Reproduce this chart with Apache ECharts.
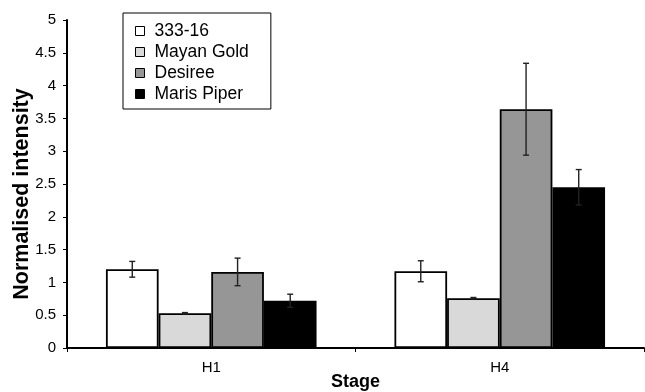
<!DOCTYPE html>
<html>
<head>
<meta charset="utf-8">
<script src="https://cdn.jsdelivr.net/npm/echarts@6/dist/echarts.min.js"></script>
<style>html,body{margin:0;padding:0;background:#fff}#chart{width:645px;height:392px}</style>
</head>
<body>
<div id="chart"></div>
<script>
var stages = ['H1', 'H4'];
var lines = ['333-16', 'Mayan Gold', 'Desiree', 'Maris Piper'];
var colors = ['#ffffff', '#d9d9d9', '#969696', '#000000'];
// mean values per line, one entry per stage
var means = [
  [1.20, 1.17],
  [0.53, 0.76],
  [1.16, 3.64],
  [0.72, 2.45]
];
// error (± value)
var errors = [
  [0.12, 0.16],
  [0.01, 0.01],
  [0.21, 0.70],
  [0.10, 0.27]
];

var chart = echarts.init(document.getElementById('chart'));
var font = 'Liberation Sans, Arial, sans-serif';

var series = [];
lines.forEach(function (name, i) {
  series.push({
    name: name,
    type: 'bar',
    data: means[i],
    barGap: 0,
    barCategoryGap: '27%',
    itemStyle: { color: colors[i], borderColor: '#000', borderWidth: 1.8 },
    z: 2
  });
});
lines.forEach(function (name, i) {
  series.push({
    type: 'custom',
    silent: true,
    z: 5,
    data: stages.map(function (s, j) { return [j, means[i][j] - errors[i][j], means[i][j] + errors[i][j]]; }),
    renderItem: function (params, api) {
      var band = api.size([1, 0])[0];
      var bw = band * 0.73 / 4;
      var lo = api.coord([api.value(0), api.value(1)]);
      var hi = api.coord([api.value(0), api.value(2)]);
      var x = lo[0] + (i - 1.5) * bw;
      var hw = 3;
      var st = { stroke: '#222', lineWidth: 1.4 };
      return {
        type: 'group',
        children: [
          { type: 'line', shape: { x1: x, y1: lo[1], x2: x, y2: hi[1] }, style: st },
          { type: 'line', shape: { x1: x - hw, y1: lo[1], x2: x + hw, y2: lo[1] }, style: st },
          { type: 'line', shape: { x1: x - hw, y1: hi[1], x2: x + hw, y2: hi[1] }, style: st }
        ]
      };
    }
  });
});

chart.setOption({
  animation: false,
  grid: { left: 67, right: 1, top: 20, bottom: 44, outerBoundsMode: 'none' },
  legend: {
    data: lines,
    orient: 'vertical',
    left: 123,
    top: 13,
    itemWidth: 9,
    itemHeight: 9,
    itemGap: 3,
    padding: [9, 22, 6, 12],
    borderColor: '#000',
    borderWidth: 1,
    icon: 'rect',
    itemStyle: { borderColor: '#000', borderWidth: 1 },
    textStyle: { fontFamily: font, fontSize: 17.5, color: '#000', padding: [0, 0, 0, 5] }
  },
  xAxis: {
    type: 'category',
    data: stages,
    name: 'Stage',
    nameLocation: 'middle',
    nameGap: 25,
    nameMoveOverlap: false,
    nameTextStyle: { fontFamily: font, fontSize: 18, fontWeight: 'bold', color: '#000' },
    axisLine: { lineStyle: { color: '#000', width: 2 } },
    axisTick: { show: true, length: 4, lineStyle: { color: '#000' } },
    axisLabel: { fontFamily: font, fontSize: 15, color: '#000', margin: 12 }
  },
  yAxis: {
    type: 'value',
    min: 0,
    max: 5,
    interval: 0.5,
    name: 'Normalised intensity',
    nameLocation: 'middle',
    nameGap: 34,
    nameMoveOverlap: false,
    nameTextStyle: { fontFamily: font, fontSize: 21.5, fontWeight: 'bold', color: '#000', padding: [0, 20, 0, 0] },
    axisLine: { show: true, lineStyle: { color: '#000', width: 2 } },
    axisTick: { show: true, length: 4, lineStyle: { color: '#000' } },
    axisLabel: { fontFamily: font, fontSize: 15, color: '#000', margin: 11 },
    splitLine: { show: false }
  },
  series: series
});
</script>
</body>
</html>
